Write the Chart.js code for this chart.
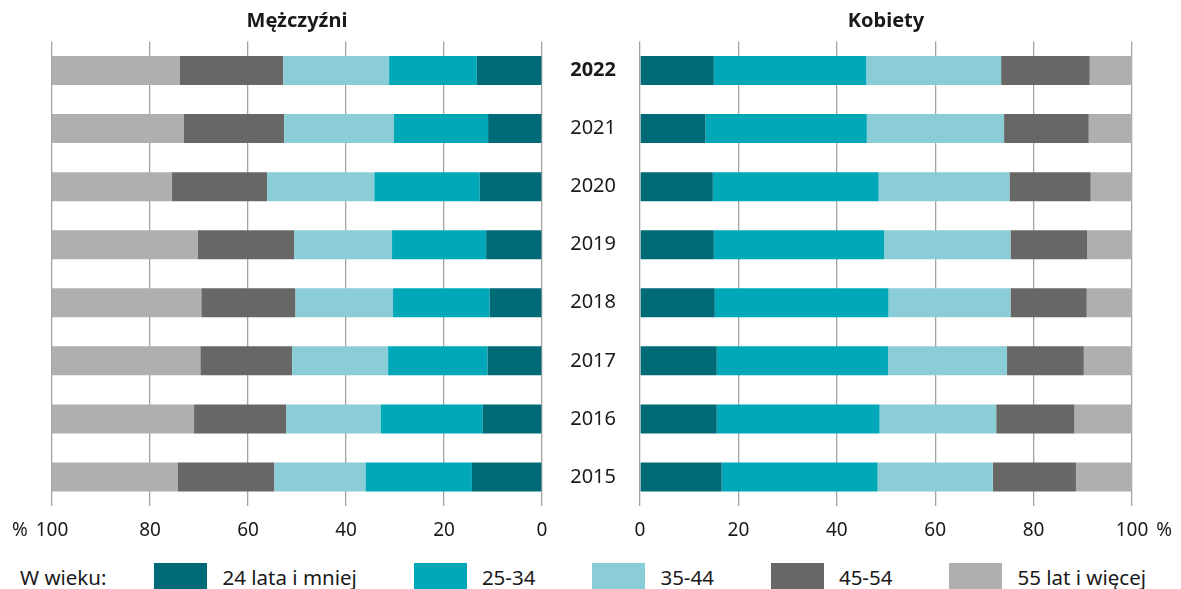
<!DOCTYPE html>
<html lang="pl">
<head>
<meta charset="utf-8">
<title>Struktura wieku – Mężczyźni i Kobiety</title>
<script src="https://cdn.jsdelivr.net/npm/chart.js@4.4.1/dist/chart.umd.min.js"></script>
<style>
  html, body { margin: 0; padding: 0; background: #fff; }
  body { width: 1181px; height: 589px; position: relative; overflow: hidden; font-family: 'Noto Sans', sans-serif; color: #1a1a1a; }
  #menBox { position: absolute; left: 0; top: 0; width: 560px; height: 550px; }
  #womenBox { position: absolute; left: 560px; top: 0; width: 621px; height: 550px; }
  #legend { position: absolute; left: 20px; top: 563px; height: 28px; display: flex; align-items: center; font-size: 20.5px; white-space: nowrap; }
  #legend .lead { margin-right: 48px; }
  #legend .box { width: 53px; height: 28px; margin-right: 15px; }
  #legend .item { display: flex; align-items: center; margin-right: 57px; }
</style>
</head>
<body>
<div id="menBox"><canvas id="menChart"></canvas></div>
<div id="womenBox"><canvas id="womenChart"></canvas></div>
<div id="legend"></div>
<script>
const years = ['2022', '2021', '2020', '2019', '2018', '2017', '2016', '2015'];
const ageGroups = ['24 lata i mniej', '25-34', '35-44', '45-54', '55 lat i więcej'];
const groupColors = ['#006b77', '#00a8b8', '#8bcdd6', '#676766', '#aeafb0'];
const xTicks = [0, 20, 40, 60, 80, 100];

// Mężczyźni, % (same order as years)
const men24 = [13.3, 11.0, 12.7, 11.4, 10.7, 11.1, 12.1, 14.3];
const men25 = [17.9, 19.2, 21.5, 19.2, 19.7, 20.3, 20.8, 21.7];
const men35 = [21.6, 22.4, 21.9, 20.0, 19.9, 19.6, 19.3, 18.6];
const men45 = [21.1, 20.5, 19.4, 19.6, 19.2, 18.7, 18.8, 19.7];
const men55 = [26.1, 26.9, 24.5, 29.8, 30.5, 30.3, 29.0, 25.7];

// Kobiety, %
const women24 = [15.0, 13.3, 14.8, 15.0, 15.2, 15.6, 15.6, 16.6];
const women25 = [31.0, 32.8, 33.7, 34.6, 35.3, 34.8, 33.1, 31.7];
const women35 = [27.4, 27.9, 26.6, 25.7, 24.8, 24.2, 23.7, 23.4];
const women45 = [18.0, 17.2, 16.5, 15.6, 15.5, 15.6, 15.9, 16.9];
const women55 = [8.6, 8.8, 8.4, 9.1, 9.2, 9.8, 11.7, 11.4];

Chart.defaults.font.family = "'Noto Sans', sans-serif";
Chart.defaults.color = '#1a1a1a';
Chart.defaults.animation = false;

const tickFont = { size: 19 };

// draws the "%" next to the 100 tick
const percentSign = {
    id: 'percentSign',
    afterDraw(chart, args, opts) {
        const x = chart.scales.x;
        const ctx = chart.ctx;
        const font = Chart.helpers.toFont(tickFont);
        ctx.save();
        ctx.font = font.string;
        ctx.fillStyle = '#1a1a1a';
        ctx.textBaseline = 'middle';
        const px = x.getPixelForValue(100);
        const half = ctx.measureText('100').width / 2;
        const y = x.top + x.options.ticks.padding + font.lineHeight / 2;
        if (opts.side === 'left') {
            ctx.textAlign = 'right';
            ctx.fillText('%', px - half - 8, y);
        } else {
            ctx.textAlign = 'left';
            ctx.fillText('%', px + half + 8, y);
        }
        ctx.restore();
    }
};

function makeDatasets(series) {
    return series.map((data, i) => ({
        label: ageGroups[i],
        data: data,
        backgroundColor: groupColors[i],
        borderWidth: 0,
        barPercentage: 0.5,
        categoryPercentage: 1
    }));
}

function xScale(reverse) {
    return {
        type: 'linear',
        stacked: true,
        min: 0,
        max: 100,
        reverse: reverse,
        afterBuildTicks: s => { s.ticks = xTicks.map(v => ({ value: v })); },
        afterFit: s => { s.height = 44; },
        grid: { color: '#a3a3a3', lineWidth: 1.3, drawTicks: false },
        border: { display: false },
        ticks: { font: tickFont, padding: 13, color: '#1a1a1a' }
    };
}

function titleOpts(text) {
    return {
        display: true,
        text: text,
        fullSize: false,
        color: '#1a1a1a',
        font: { size: 20, weight: 'bold' },
        padding: { top: 9, bottom: 8.5 }
    };
}

new Chart(document.getElementById('menChart'), {
    type: 'bar',
    data: {
        labels: years,
        datasets: makeDatasets([men24, men25, men35, men45, men55])
    },
    plugins: [percentSign],
    options: {
        indexAxis: 'y',
        responsive: true,
        maintainAspectRatio: false,
        layout: { padding: { left: 52, right: 18, top: 0, bottom: 0 } },
        plugins: {
            legend: { display: false },
            tooltip: { enabled: false },
            title: titleOpts('Mężczyźni'),
            percentSign: { side: 'left' }
        },
        scales: {
            x: xScale(true),
            y: { type: 'category', stacked: true, display: false }
        }
    }
});

new Chart(document.getElementById('womenChart'), {
    type: 'bar',
    data: {
        labels: years,
        datasets: makeDatasets([women24, women25, women35, women45, women55])
    },
    plugins: [percentSign],
    options: {
        indexAxis: 'y',
        responsive: true,
        maintainAspectRatio: false,
        layout: { padding: { left: 0, right: 49, top: 0, bottom: 0 } },
        plugins: {
            legend: { display: false },
            tooltip: { enabled: false },
            title: titleOpts('Kobiety'),
            percentSign: { side: 'right' }
        },
        scales: {
            x: xScale(false),
            y: {
                type: 'category',
                stacked: true,
                afterFit: s => { s.width = 80; },
                grid: { display: false, drawTicks: false },
                border: { display: false },
                ticks: {
                    padding: 24,
                    color: '#1a1a1a',
                    font: c => ({ size: 20, weight: c.index === 0 ? 'bold' : 'normal' })
                }
            }
        }
    }
});

// legend
const legend = document.getElementById('legend');
const lead = document.createElement('span');
lead.className = 'lead';
lead.textContent = 'W wieku:';
legend.appendChild(lead);
ageGroups.forEach((name, i) => {
    const item = document.createElement('span');
    item.className = 'item';
    const box = document.createElement('span');
    box.className = 'box';
    box.style.background = groupColors[i];
    const txt = document.createElement('span');
    txt.textContent = name;
    item.appendChild(box);
    item.appendChild(txt);
    legend.appendChild(item);
});
</script>
</body>
</html>
